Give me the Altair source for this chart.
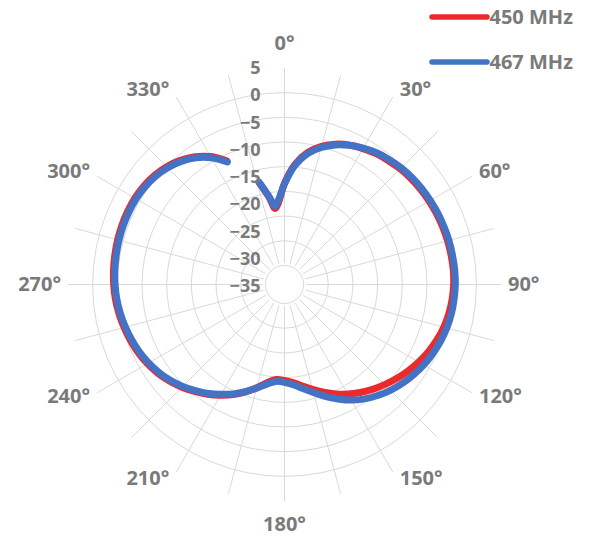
import altair as alt
import pandas as pd

# ---- data ----
angles = [346, 350, 353, 356, 0, 5, 10, 15, 20, 25, 30, 35, 40, 45, 50, 55, 60, 65, 70, 75,
          80, 85, 90, 95, 100, 105, 110, 115, 120, 125, 130, 135, 140, 145, 150, 155, 160,
          165, 170, 175, 180, 185, 190, 195, 200, 205, 210, 215, 220, 225, 230, 235, 240,
          245, 250, 255, 260, 265, 270, 275, 280, 285, 290, 295, 300, 305, 310, 315, 320,
          325, 330, 335]

mhz450 = [-15.0, -18.0, -20.1, -19.0, -15.7, -12.2, -9.8, -8.2, -7.05, -6.25, -5.7, -5.2,
          -4.85, -4.5, -4.25, -4.05, -3.9, -3.75, -3.65, -3.55, -3.5, -3.45, -3.5, -3.65,
          -3.9, -4.25, -4.75, -5.35, -6.05, -6.8, -7.6, -8.45, -9.3, -10.2, -11.15, -12.2,
          -13.3, -14.35, -15.35, -16.2, -16.65, -16.75, -15.95, -14.7, -13.35, -12.05,
          -10.9, -9.8, -8.8, -7.8, -6.9, -6.1, -5.45, -4.9, -4.45, -4.05, -3.7, -3.4, -3.2,
          -3.05, -2.95, -2.85, -2.8, -2.8, -2.85, -3.05, -3.4, -3.95, -4.75, -5.85, -7.35,
          -9.35]

mhz467 = [-14.9, -17.8, -19.7, -18.6, -15.8, -12.4, -10.0, -8.4, -7.2, -6.3, -5.6, -5.0,
          -4.6, -4.25, -4.0, -3.8, -3.65, -3.5, -3.4, -3.3, -3.25, -3.2, -3.2, -3.3, -3.45,
          -3.7, -4.05, -4.5, -5.0, -5.6, -6.25, -7.0, -7.85, -8.8, -9.9, -11.2, -12.5,
          -13.8, -14.9, -15.8, -16.3, -16.4, -15.7, -14.6, -13.4, -12.2, -11.1, -10.0,
          -9.0, -8.0, -7.1, -6.35, -5.7, -5.15, -4.7, -4.3, -3.95, -3.65, -3.45, -3.3,
          -3.2, -3.1, -3.05, -3.05, -3.1, -3.3, -3.65, -4.2, -5.0, -6.1, -7.6, -9.6]

series_names = ["450 MHz", "467 MHz"]
series_colors = ["#ec2a2c", "#4472c4"]

ring_values = [-30, -25, -20, -15, -10, -5, 0, 5]
radial_ticks = [5, 0, -5, -10, -15, -20, -25, -30, -35]
spoke_angles = list(range(0, 360, 15))
angle_labels = list(range(0, 360, 30))

# ---- geometry (pixel units, origin at the polar centre) ----
R_IN = 21.5                # radius of the -30 ring
STEP = 27.857 / 5          # pixels per dB
R_OUT = R_IN + 35 * STEP   # radius of the +5 ring
FONT = "Open Sans"
GRAY = "#7a7a7a"
GRID = "#d9d9d9"
W, H = 578, 530

rexpr = f"{R_IN} + (datum.v + 30) * {STEP}"

curve_df = pd.DataFrame({
    "series": [series_names[0]] * len(angles) + [series_names[1]] * len(angles),
    "angle": angles + angles,
    "v": mhz450 + mhz467,
})

xs = alt.Scale(domain=[-276.5, -276.5 + W], nice=False, zero=False)
ys = alt.Scale(domain=[276.5 - H, 276.5], nice=False, zero=False)
color = alt.Color("series:N", scale=alt.Scale(domain=series_names, range=series_colors), legend=None)

rings = alt.Chart(pd.DataFrame({"v": ring_values})).transform_calculate(
    r=rexpr, cx="0", cy="0", s=f"PI * pow({rexpr}, 2)"
).mark_point(shape="circle", filled=False, stroke=GRID, strokeWidth=1, opacity=1).encode(
    x=alt.X("cx:Q", scale=xs, axis=None),
    y=alt.Y("cy:Q", scale=ys, axis=None),
    size=alt.Size("s:Q", scale=None, legend=None),
)

spokes = alt.Chart(pd.DataFrame({"a": spoke_angles})).transform_calculate(
    x1=f"{R_IN} * sin(datum.a * PI / 180)",
    y1=f"{R_IN} * cos(datum.a * PI / 180)",
    x2=f"{R_OUT} * sin(datum.a * PI / 180)",
    y2=f"{R_OUT} * cos(datum.a * PI / 180)",
).mark_rule(color=GRID, strokeWidth=1).encode(
    x=alt.X("x1:Q", scale=xs, axis=None), y=alt.Y("y1:Q", scale=ys, axis=None),
    x2="x2:Q", y2="y2:Q",
)

rad_labels = alt.Chart(pd.DataFrame({"v": radial_ticks})).transform_calculate(
    lx="-24", ly=f"{R_OUT - 1} - (5 - datum.v) * 5.45", t="format(datum.v, 'd')"
).mark_text(align="right", baseline="middle", font=FONT, fontWeight="bold",
            fontSize=18, color=GRAY).encode(
    x=alt.X("lx:Q", scale=xs, axis=None), y=alt.Y("ly:Q", scale=ys, axis=None), text="t:N",
)

ang_base = alt.Chart(pd.DataFrame({"a": angle_labels})).transform_calculate(
    t="datum.a + '°'",
    sa="sin(datum.a * PI / 180)",
    ca="cos(datum.a * PI / 180)",
)

top_bottom = ang_base.transform_filter("datum.a % 180 == 0").transform_calculate(
    lx="0", ly=f"datum.ca * {R_OUT + 24}"
).mark_text(align="center", baseline="middle", font=FONT, fontWeight="bold",
            fontSize=20, color=GRAY).encode(
    x=alt.X("lx:Q", scale=xs, axis=None), y=alt.Y("ly:Q", scale=ys, axis=None), text="t:N")

right_side = ang_base.transform_filter("datum.a > 0 && datum.a < 180").transform_calculate(
    lx=f"datum.sa * {R_OUT} + 7", ly=f"datum.ca * {R_OUT + 8}"
).mark_text(align="left", baseline="middle", font=FONT, fontWeight="bold",
            fontSize=20, color=GRAY).encode(
    x=alt.X("lx:Q", scale=xs, axis=None), y=alt.Y("ly:Q", scale=ys, axis=None), text="t:N")

left_side = ang_base.transform_filter("datum.a > 180").transform_calculate(
    lx=f"datum.sa * {R_OUT} - 7", ly=f"datum.ca * {R_OUT + 8}"
).mark_text(align="right", baseline="middle", font=FONT, fontWeight="bold",
            fontSize=20, color=GRAY).encode(
    x=alt.X("lx:Q", scale=xs, axis=None), y=alt.Y("ly:Q", scale=ys, axis=None), text="t:N")

curves = alt.Chart(curve_df).transform_calculate(
    r=rexpr,
    px="datum.r * sin(datum.angle * PI / 180)",
    py="datum.r * cos(datum.angle * PI / 180)",
    k="(datum.angle - 345 + 360) % 360",
).mark_line(strokeWidth=7, interpolate="catmull-rom", strokeCap="round", strokeJoin="round").encode(
    x=alt.X("px:Q", scale=xs, axis=None),
    y=alt.Y("py:Q", scale=ys, axis=None),
    color=color,
    order="k:Q",
)

leg_base = alt.Chart(pd.DataFrame({"series": series_names})).transform_window(
    idx="row_number()"
).transform_calculate(
    lx1="147.5", lx2="202.5", tx="205", ly="267.5 - (datum.idx - 1) * 45"
)

leg_lines = leg_base.mark_rule(strokeWidth=5.5, strokeCap="round").encode(
    x=alt.X("lx1:Q", scale=xs, axis=None), x2="lx2:Q",
    y=alt.Y("ly:Q", scale=ys, axis=None), color=color,
)
leg_text = leg_base.mark_text(align="left", baseline="middle", font=FONT, fontWeight="bold",
                              fontSize=20, color=GRAY, dy=1).encode(
    x=alt.X("tx:Q", scale=xs, axis=None), y=alt.Y("ly:Q", scale=ys, axis=None), text="series:N",
)

chart = alt.layer(
    rings, spokes, curves, rad_labels, top_bottom, right_side, left_side, leg_lines, leg_text
).properties(
    width=W, height=H, padding=0, autosize=alt.AutoSizeParams(type="none"),
    background="white",
).configure_view(stroke=None)

chart.save("out.html", embed_options={"renderer": "svg", "actions": False})
